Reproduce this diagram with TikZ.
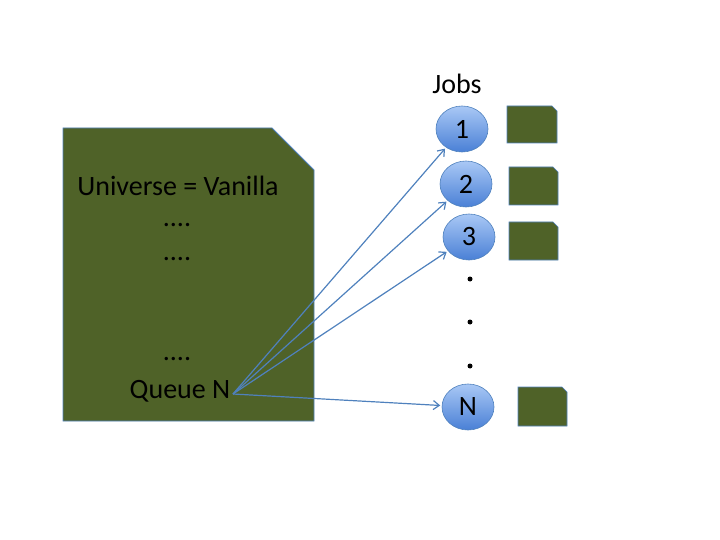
\documentclass[tikz,border=0pt]{standalone}
\usepackage{fontspec}
\setmainfont{Carlito}
\usetikzlibrary{shapes.geometric,arrows.meta}
\definecolor{docgreen}{HTML}{4F6228}
\definecolor{edgeblue}{HTML}{4F81BD}
\definecolor{ballhi}{HTML}{A9C8F5}
\definecolor{balllo}{HTML}{4A80D6}
\tikzset{
  doc/.style={fill=docgreen,draw=edgeblue,line width=0.8pt},
  job/.style={ellipse,draw=edgeblue,line width=0.6pt,top color=ballhi,bottom color=balllo,
    minimum width=52pt,minimum height=46pt,inner sep=0pt,font=\fontsize{28}{30}\selectfont},
  arr/.style={draw=edgeblue,line width=1.2pt,shorten >=1.5pt,-{Straight Barb[length=6pt,width=9pt]}},
  txt/.style={font=\fontsize{28}{30}\selectfont,inner sep=0pt},
  dot/.style={circle,fill=black,inner sep=0pt,minimum size=5pt}
}
\begin{document}
\begin{tikzpicture}[x=1pt,y=-1pt]
\useasboundingbox (0,0) rectangle (720,540);
% main document
\draw[doc] (63,128) -- (272,128) -- (314,170) -- (314,421) -- (63,421) -- cycle;
\node[txt] (univ) at (178,186) {Universe = Vanilla};
\node[txt] (d1) at (177,225) {....};
\node[txt] (d2) at (177,259) {....};
\node[txt] (d3) at (177,359) {....};
\node[txt] (queue) at (180,391) {Queue N};
\coordinate (q) at (233,394);
% jobs
\node[txt] (jobs) at (457,84) {Jobs};
\node[job] (j1) at (462,129) {1};
\node[job] (j2) at (466,184) {2};
\node[job] (j3) at (469,237) {3};
\node[job] (jn) at (468,407) {N};
\node[dot] (p1) at (470,279) {};
\node[dot] (p2) at (470,322) {};
\node[dot] (p3) at (470,366) {};
% small documents
\draw[doc,line width=0.6pt] (507,106) -- (552,106) -- (557,111) -- (557,143) -- (507,143) -- cycle;
\draw[doc,line width=0.6pt] (509,167) -- (553,167) -- (558,172) -- (558,205) -- (509,205) -- cycle;
\draw[doc,line width=0.6pt] (509,222) -- (553,222) -- (558,227) -- (558,260) -- (509,260) -- cycle;
\draw[doc,line width=0.6pt] (518,387) -- (562,387) -- (567,392) -- (567,426) -- (518,426) -- cycle;
% arrows
\draw[arr] (q) -- (j1);
\draw[arr] (q) -- (j2);
\draw[arr] (q) -- (j3);
\draw[arr] (q) -- (jn);
\end{tikzpicture}
\end{document}
